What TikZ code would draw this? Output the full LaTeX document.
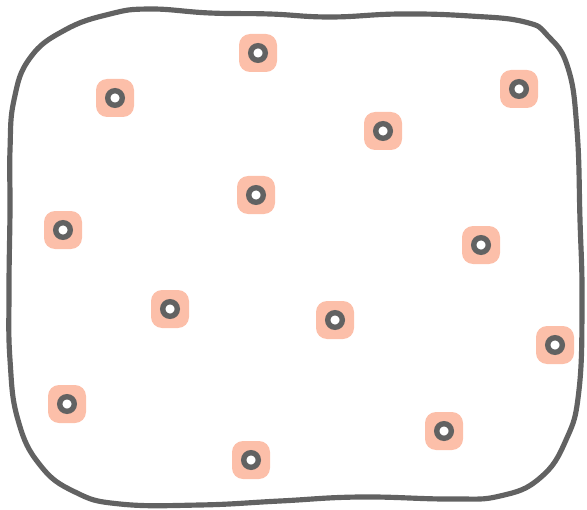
\documentclass[tikz,border=0pt]{standalone}
\definecolor{rim}{HTML}{626262}
\definecolor{salmon}{HTML}{FCBFA9}
\begin{document}
\begin{tikzpicture}[x=0.03cm,y=-0.03cm]
\useasboundingbox (0,0) rectangle (587,510);
% outline
\draw[rim,line width=4.4pt,line cap=round,line join=round] plot[smooth cycle,tension=0.75] coordinates {
  (10,150) (14,100) (30,58) (65,30) (110,14) (150,9) (210,13) (270,14)
  (330,17) (400,14) (470,16) (525,22) (548,36) (568,68) (577,130)
  (580,220) (582,300) (579,390) (566,440) (540,478) (500,496) (450,499)
  (360,497) (280,501) (200,505) (120,504) (75,492) (40,465) (18,420)
  (10,360) (9,290) (10,210)};

\coordinate (S1)  at (258,53);
\coordinate (S2)  at (115,98);
\coordinate (S3)  at (519,89);
\coordinate (S4)  at (383,131);
\coordinate (S5)  at (256,195);
\coordinate (S6)  at (63,230);
\coordinate (S7)  at (481,245);
\coordinate (S8)  at (170,309);
\coordinate (S9)  at (335,320);
\coordinate (S10) at (555,345);
\coordinate (S11) at (67,404);
\coordinate (S12) at (444,431);
\coordinate (S13) at (251,460);

\foreach \p in {S1,S2,S3,S4,S5,S6,S7,S8,S9,S10,S11,S12,S13}
{
    \fill[salmon,rounded corners=0.33cm,shift={(\p)}] (-19,-19) rectangle (19,19);
    \draw[rim,line width=4.6pt,fill=white] (\p) circle (7.3);
}
\end{tikzpicture}
\end{document}
